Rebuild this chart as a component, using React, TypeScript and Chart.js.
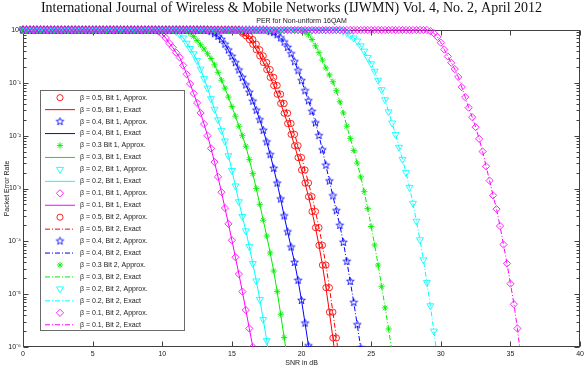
import { useEffect, useRef } from 'react';
import { Chart, registerables } from 'chart.js';
import { drawPoint } from 'chart.js/helpers';

Chart.register(...registerables);

// SNR sampling grid (dB)
const snrDb = [
  0, 0.25, 0.5, 0.75, 1, 1.25, 1.5, 1.75,
  2, 2.25, 2.5, 2.75, 3, 3.25, 3.5, 3.75,
  4, 4.25, 4.5, 4.75, 5, 5.25, 5.5, 5.75,
  6, 6.25, 6.5, 6.75, 7, 7.25, 7.5, 7.75,
  8, 8.25, 8.5, 8.75, 9, 9.25, 9.5, 9.75,
  10, 10.25, 10.5, 10.75, 11, 11.25, 11.5, 11.75,
  12, 12.25, 12.5, 12.75, 13, 13.25, 13.5, 13.75,
  14, 14.25, 14.5, 14.75, 15, 15.25, 15.5, 15.75,
  16, 16.25, 16.5, 16.75, 17, 17.25, 17.5, 17.75,
  18, 18.25, 18.5, 18.75, 19, 19.25, 19.5, 19.75,
  20, 20.25, 20.5, 20.75, 21, 21.25, 21.5, 21.75,
  22, 22.25, 22.5, 22.75, 23, 23.25, 23.5, 23.75,
  24, 24.25, 24.5, 24.75, 25, 25.25, 25.5, 25.75,
  26, 26.25, 26.5, 26.75, 27, 27.25, 27.5, 27.75,
  28, 28.25, 28.5, 28.75, 29, 29.25, 29.5, 29.75,
  30, 30.25, 30.5, 30.75, 31, 31.25, 31.5, 31.75,
  32, 32.25, 32.5, 32.75, 33, 33.25, 33.5, 33.75,
  34, 34.25, 34.5, 34.75, 35, 35.25, 35.5, 35.75,
];

// Packet error rate per SNR sample, one array per (beta, bit)
const per05Bit1 = [
  1, 1, 1, 1, 1, 1, 1, 1, 1, 1, 1, 1, 1, 1, 1, 1,
  1, 1, 1, 1, 1, 1, 1, 1, 1, 1, 1, 1, 1, 1, 1, 1,
  1, 1, 1, 1, 1, 1, 1, 1, 1, 1, 1, 1, 1, 1, 1, 1,
  1, 1, 1, 1, 1, 1, 1, 1, 1, 1, 1, 1, 1, 1, 1,
  0.871, 0.776, 0.661, 0.537, 0.422, 0.324, 0.243, 0.178, 0.127, 0.0891,
  0.061, 0.0407, 0.0266, 0.017, 0.0106, 6.46e-3, 3.85e-3, 2.24e-3, 1.27e-3, 7.0e-4,
  3.67e-4, 1.82e-4, 8.41e-5, 3.55e-5, 1.33e-5, 4.57e-6, 1.48e-6, 4.47e-7,
];

const per04Bit1 = [
  1, 1, 1, 1, 1, 1, 1, 1, 1, 1, 1, 1, 1, 1, 1, 1,
  1, 1, 1, 1, 1, 1, 1, 1, 1, 1, 1, 1, 1, 1, 1, 1,
  1, 1, 1, 1, 1, 1, 1, 1, 1, 1, 1, 1, 1, 1, 1, 1,
  1, 1, 1, 1, 1, 1,
  0.933, 0.851, 0.759, 0.661, 0.537, 0.417, 0.316, 0.24, 0.174, 0.126,
  0.0912, 0.0661, 0.0447, 0.0302, 0.02, 0.0126, 7.59e-3, 4.37e-3, 2.4e-3, 1.26e-3,
  6.31e-4, 3.02e-4, 1.51e-4, 7.76e-5, 3.98e-5, 1.82e-5, 7.59e-6, 2.82e-6, 1.05e-6, 3.98e-7,
];

const per03Bit1 = [
  1, 1, 1, 1, 1, 1, 1, 1, 1, 1, 1, 1, 1, 1, 1, 1,
  1, 1, 1, 1, 1, 1, 1, 1, 1, 1, 1, 1, 1, 1, 1, 1,
  1, 1, 1, 1, 1, 1, 1, 1, 1, 1, 1, 1, 1, 1, 1, 1,
  0.871, 0.759, 0.631, 0.525, 0.437, 0.355, 0.288, 0.219, 0.158, 0.112,
  0.0794, 0.0537, 0.0355, 0.0234, 0.0151, 0.01, 6.31e-3, 3.55e-3, 1.91e-3, 1.0e-3,
  5.01e-4, 2.51e-4, 1.26e-4, 6.03e-5, 2.75e-5, 1.12e-5, 4.17e-6, 1.51e-6, 5.62e-7,
];

const per02Bit1 = [
  1, 1, 1, 1, 1, 1, 1, 1, 1, 1, 1, 1, 1, 1, 1, 1,
  1, 1, 1, 1, 1, 1, 1, 1, 1, 1, 1, 1, 1, 1, 1, 1,
  1, 1, 1, 1, 1, 1, 1, 1, 1, 1, 1, 1,
  0.933, 0.832, 0.708, 0.562, 0.447, 0.355, 0.263, 0.182, 0.12, 0.0794,
  0.0501, 0.0316, 0.02, 0.0126, 7.94e-3, 4.17e-3, 2.19e-3, 1.12e-3, 5.62e-4, 2.95e-4,
  1.58e-4, 7.94e-5, 3.8e-5, 1.78e-5, 7.94e-6, 3.31e-6, 1.32e-6, 5.01e-7,
];

const per01Bit1 = [
  1, 1, 1, 1, 1, 1, 1, 1, 1, 1, 1, 1, 1, 1, 1, 1,
  1, 1, 1, 1, 1, 1, 1, 1, 1, 1, 1, 1, 1, 1, 1, 1,
  1, 1, 1, 1, 1, 1, 1,
  0.933, 0.832, 0.708, 0.562, 0.468, 0.372, 0.302, 0.214, 0.145, 0.0955,
  0.0631, 0.0417, 0.0269, 0.0166, 0.01, 5.75e-3, 3.16e-3, 1.66e-3, 8.51e-4, 4.27e-4,
  2.14e-4, 1.05e-4, 5.01e-5, 2.4e-5, 1.12e-5, 5.01e-6, 2.24e-6, 1.0e-6, 3.98e-7,
];

const per05Bit2 = [
  1, 1, 1, 1, 1, 1, 1, 1, 1, 1, 1, 1, 1, 1, 1, 1,
  1, 1, 1, 1, 1, 1, 1, 1, 1, 1, 1, 1, 1, 1, 1, 1,
  1, 1, 1, 1, 1, 1, 1, 1, 1, 1, 1, 1, 1, 1, 1, 1,
  1, 1, 1, 1, 1, 1, 1, 1, 1, 1, 1, 1, 1, 1, 1,
  0.933, 0.871, 0.776, 0.661, 0.537, 0.422, 0.324, 0.243, 0.178, 0.127,
  0.0891, 0.061, 0.0407, 0.0266, 0.017, 0.0106, 6.46e-3, 3.85e-3, 2.24e-3, 1.27e-3,
  7.0e-4, 3.67e-4, 1.82e-4, 8.41e-5, 3.55e-5, 1.33e-5, 4.57e-6, 1.48e-6, 4.47e-7,
];

const per04Bit2 = [
  1, 1, 1, 1, 1, 1, 1, 1, 1, 1, 1, 1, 1, 1, 1, 1,
  1, 1, 1, 1, 1, 1, 1, 1, 1, 1, 1, 1, 1, 1, 1, 1,
  1, 1, 1, 1, 1, 1, 1, 1, 1, 1, 1, 1, 1, 1, 1, 1,
  1, 1, 1, 1, 1, 1, 1, 1, 1, 1, 1, 1, 1, 1, 1, 1,
  1, 1, 1, 1, 1, 1, 1,
  0.933, 0.891, 0.813, 0.708, 0.589, 0.468, 0.355, 0.251, 0.17, 0.11,
  0.0708, 0.0457, 0.0288, 0.0174, 0.01, 5.37e-3, 2.75e-3, 1.38e-3, 7.24e-4, 3.8e-4,
  2.0e-4, 9.55e-5, 4.17e-5, 1.74e-5, 6.92e-6, 2.63e-6, 9.55e-7, 3.16e-7,
];

const per03Bit2 = [
  1, 1, 1, 1, 1, 1, 1, 1, 1, 1, 1, 1, 1, 1, 1, 1,
  1, 1, 1, 1, 1, 1, 1, 1, 1, 1, 1, 1, 1, 1, 1, 1,
  1, 1, 1, 1, 1, 1, 1, 1, 1, 1, 1, 1, 1, 1, 1, 1,
  1, 1, 1, 1, 1, 1, 1, 1, 1, 1, 1, 1, 1, 1, 1, 1,
  1, 1, 1, 1, 1, 1, 1, 1, 1, 1, 1, 1, 1, 1, 1, 1,
  1,
  0.912, 0.813, 0.661, 0.501, 0.372, 0.269, 0.191, 0.141, 0.105, 0.0708,
  0.0437, 0.0269, 0.0151, 8.91e-3, 5.25e-3, 3.02e-3, 1.66e-3, 8.71e-4, 4.17e-4, 1.91e-4,
  8.51e-5, 3.55e-5, 1.41e-5, 5.5e-6, 2.19e-6, 7.94e-7,
];

const per02Bit2 = [
  1, 1, 1, 1, 1, 1, 1, 1, 1, 1, 1, 1, 1, 1, 1, 1,
  1, 1, 1, 1, 1, 1, 1, 1, 1, 1, 1, 1, 1, 1, 1, 1,
  1, 1, 1, 1, 1, 1, 1, 1, 1, 1, 1, 1, 1, 1, 1, 1,
  1, 1, 1, 1, 1, 1, 1, 1, 1, 1, 1, 1, 1, 1, 1, 1,
  1, 1, 1, 1, 1, 1, 1, 1, 1, 1, 1, 1, 1, 1, 1, 1,
  1, 1, 1, 1, 1, 1, 1, 1, 1, 1, 1, 1,
  0.955, 0.891, 0.794, 0.708, 0.617, 0.501, 0.398, 0.302, 0.229, 0.166,
  0.112, 0.0741, 0.0479, 0.0282, 0.0174, 0.0105, 6.03e-3, 3.55e-3, 2.0e-3, 1.05e-3,
  5.25e-4, 2.4e-4, 1.07e-4, 4.47e-5, 1.66e-5, 6.03e-6, 2.0e-6, 6.31e-7,
];

const per01Bit2 = [
  1, 1, 1, 1, 1, 1, 1, 1, 1, 1, 1, 1, 1, 1, 1, 1,
  1, 1, 1, 1, 1, 1, 1, 1, 1, 1, 1, 1, 1, 1, 1, 1,
  1, 1, 1, 1, 1, 1, 1, 1, 1, 1, 1, 1, 1, 1, 1, 1,
  1, 1, 1, 1, 1, 1, 1, 1, 1, 1, 1, 1, 1, 1, 1, 1,
  1, 1, 1, 1, 1, 1, 1, 1, 1, 1, 1, 1, 1, 1, 1, 1,
  1, 1, 1, 1, 1, 1, 1, 1, 1, 1, 1, 1, 1, 1, 1, 1,
  1, 1, 1, 1, 1, 1, 1, 1, 1, 1, 1, 1, 1, 1, 1, 1,
  1, 1, 1, 1, 1,
  0.955, 0.871, 0.741, 0.575, 0.427, 0.316, 0.24, 0.182, 0.129, 0.0832,
  0.0537, 0.0339, 0.0224, 0.0145, 8.71e-3, 5.01e-3, 2.63e-3, 1.41e-3, 7.41e-4, 4.07e-4,
  1.95e-4, 8.71e-5, 3.8e-5, 1.58e-5, 6.46e-6, 2.24e-6, 6.31e-7,
];

const approxLabels = [
  'β = 0.5, Bit 1, Approx.', 'β = 0.4, Bit 1, Approx.', 'β = 0.3 Bit 1, Approx.',
  'β = 0.2, Bit 1, Approx.', 'β = 0.1, Bit 1, Approx.', 'β = 0.5, Bit 2, Approx.',
  'β = 0.4, Bit 2, Approx.', 'β = 0.3 Bit 2, Approx.', 'β = 0.2, Bit 2, Approx.',
  'β = 0.1, Bit 2, Approx.',
];
const exactLabels = [
  'β = 0.5, Bit 1, Exact', 'β = 0.4, Bit 1, Exact', 'β = 0.3, Bit 1, Exact',
  'β = 0.2, Bit 1, Exact', 'β = 0.1, Bit 1, Exact', 'β = 0.5, Bit 2, Exact',
  'β = 0.4, Bit 2, Exact', 'β = 0.3, Bit 2, Exact', 'β = 0.2, Bit 2, Exact',
  'β = 0.1, Bit 2, Exact',
];

const yDecades = [1e-6, 1e-5, 1e-4, 1e-3, 1e-2, 1e-1, 1];
const yTickLabels = ['10⁰', '10⁻¹', '10⁻²', '10⁻³', '10⁻⁴', '10⁻⁵', '10⁻⁶'];

const HEADER = 'International Journal of Wireless & Mobile Networks (IJWMN) Vol. 4, No. 2, April 2012';
const PLOT_TITLE = 'PER for Non-uniform 16QAM';

const RED = '#ff0000';
const BLUE = '#0000ff';
const GREEN = '#00ee00';
const CYAN = '#00ffff';
const MAGENTA = '#ff00ff';
const SANS = '"Liberation Sans", Arial, sans-serif';
const DASH_DOT = [5, 2, 1, 2];
const MARKER_LINE = 0.85;

function makePentagram(color: string, r: number) {
  const size = Math.ceil(r * 2 + 3);
  const c = document.createElement('canvas');
  c.width = size;
  c.height = size;
  const g = c.getContext('2d')!;
  const cx = size / 2;
  const cy = size / 2;
  g.beginPath();
  for (let k = 0; k < 10; k++) {
    const rad = k % 2 === 0 ? r : r * 0.42;
    const a = -Math.PI / 2 + (k * Math.PI) / 5;
    const px = cx + rad * Math.cos(a);
    const py = cy + rad * Math.sin(a);
    if (k === 0) g.moveTo(px, py);
    else g.lineTo(px, py);
  }
  g.closePath();
  g.strokeStyle = color;
  g.lineWidth = MARKER_LINE;
  g.stroke();
  return c;
}

const isDecade = (v: number) => Math.abs(Math.log10(v) - Math.round(Math.log10(v))) < 1e-9;

// box around the axes with inward tick marks on all four sides
const axisFrame = {
  id: 'axisFrame',
  beforeDatasetsDraw(chart: any) {
    const { ctx, chartArea: a, scales } = chart;
    const xs = scales.x;
    const ys = scales.y;
    ctx.save();
    ctx.strokeStyle = '#404040';
    ctx.lineWidth = 1;
    const L = Math.round(a.left) + 0.5;
    const R = Math.round(a.right) - 0.5;
    const T = Math.round(a.top) + 0.5;
    const B = Math.round(a.bottom) - 0.5;
    ctx.strokeRect(L, T, R - L, B - T);
    ctx.beginPath();
    xs.ticks.forEach((t: any) => {
      const px = Math.round(xs.getPixelForValue(t.value)) + 0.5;
      ctx.moveTo(px, B);
      ctx.lineTo(px, B - 5);
      ctx.moveTo(px, T);
      ctx.lineTo(px, T + 5);
    });
    for (let e = -6; e <= 0; e++) {
      for (let m = 1; m <= 9; m++) {
        const v = m * Math.pow(10, e);
        if (v > 1.0000001) break;
        const py = Math.round(ys.getPixelForValue(v)) + 0.5;
        const len = m === 1 ? 5 : 3;
        ctx.moveTo(L, py);
        ctx.lineTo(L + len, py);
        ctx.moveTo(R, py);
        ctx.lineTo(R - len, py);
      }
    }
    ctx.stroke();
    ctx.fillStyle = '#202020';
    ctx.font = `7px ${SANS}`;
    ctx.textAlign = 'center';
    ctx.textBaseline = 'middle';
    ctx.fillText(PLOT_TITLE, (a.left + a.right) / 2, a.top - 8.5);
    ctx.restore();
  },
};

// legend box inside the plot area, listing every dataset
const legendBox = {
  id: 'legendBox',
  afterDatasetsDraw(chart: any) {
    const { ctx, chartArea: a } = chart;
    const x0 = Math.round(a.left) + 17;
    const y0 = Math.round(a.top) + 60;
    const w = 144;
    const h = 240;
    ctx.save();
    ctx.fillStyle = '#ffffff';
    ctx.fillRect(x0, y0, w, h);
    ctx.strokeStyle = '#6a6a6a';
    ctx.lineWidth = 1;
    ctx.strokeRect(x0 + 0.5, y0 + 0.5, w, h);
    chart.data.datasets.forEach((ds: any, i: number) => {
      const cy = y0 + 7.7 + i * 11.95;
      ctx.strokeStyle = ds.borderColor;
      ctx.fillStyle = 'rgba(0,0,0,0)';
      if (ds.showLine === false) {
        ctx.lineWidth = MARKER_LINE;
        ctx.setLineDash([]);
        drawPoint(ctx, {
          pointStyle: ds.pointStyle,
          rotation: ds.pointRotation || 0,
          radius: ds.pointRadius,
          borderWidth: MARKER_LINE,
        }, x0 + 20, cy);
      } else {
        ctx.lineWidth = 1;
        ctx.setLineDash(ds.borderDash || []);
        ctx.beginPath();
        ctx.moveTo(x0 + 5, cy);
        ctx.lineTo(x0 + 35, cy);
        ctx.stroke();
        ctx.setLineDash([]);
      }
      ctx.fillStyle = '#1a1a1a';
      ctx.font = `7px ${SANS}`;
      ctx.textAlign = 'left';
      ctx.textBaseline = 'middle';
      ctx.fillText(ds.label, x0 + 40, cy);
    });
    ctx.restore();
  },
};

export default function App() {
  const canvasRef = useRef<HTMLCanvasElement>(null);

  useEffect(() => {
    const canvas = canvasRef.current;
    if (!canvas) return;

    const pentagram = makePentagram(BLUE, 4);
    const curves = [
      { data: per05Bit1, color: RED, style: 'circle', radius: 3.1, rotation: 0, dash: [] as number[] },
      { data: per04Bit1, color: BLUE, style: pentagram, radius: 4, rotation: 0, dash: [] },
      { data: per03Bit1, color: GREEN, style: 'star', radius: 3.2, rotation: 0, dash: [] },
      { data: per02Bit1, color: CYAN, style: 'triangle', radius: 4, rotation: 180, dash: [] },
      { data: per01Bit1, color: MAGENTA, style: 'rectRot', radius: 3.6, rotation: 0, dash: [] },
      { data: per05Bit2, color: RED, style: 'circle', radius: 3.1, rotation: 0, dash: DASH_DOT },
      { data: per04Bit2, color: BLUE, style: pentagram, radius: 4, rotation: 0, dash: DASH_DOT },
      { data: per03Bit2, color: GREEN, style: 'star', radius: 3.2, rotation: 0, dash: DASH_DOT },
      { data: per02Bit2, color: CYAN, style: 'triangle', radius: 4, rotation: 180, dash: DASH_DOT },
      { data: per01Bit2, color: MAGENTA, style: 'rectRot', radius: 3.6, rotation: 0, dash: DASH_DOT },
    ];

    const clip = { left: 6, top: 6, right: 6, bottom: 0 };
    const datasets: any[] = [];
    curves.forEach((c, k) => {
      datasets.push({
        label: approxLabels[k],
        data: c.data,
        showLine: false,
        borderColor: c.color,
        backgroundColor: 'rgba(0,0,0,0)',
        pointStyle: c.style,
        pointRadius: c.radius,
        pointRotation: c.rotation,
        pointBorderColor: c.color,
        pointBackgroundColor: 'rgba(0,0,0,0)',
        pointBorderWidth: MARKER_LINE,
        clip,
      });
      datasets.push({
        label: exactLabels[k],
        data: c.data,
        showLine: true,
        borderColor: c.color,
        backgroundColor: 'rgba(0,0,0,0)',
        borderWidth: 1,
        borderDash: c.dash,
        pointRadius: 0,
        tension: 0,
        clip,
      });
    });
    // later series are drawn on top of earlier ones
    datasets.forEach((d, i) => { d.order = datasets.length - i; });

    const tickFont = { family: SANS, size: 7 };

    const chart = new Chart(canvas, {
      type: 'line',
      data: { labels: snrDb, datasets },
      options: {
        responsive: false,
        animation: false,
        events: [],
        layout: { padding: { left: 0, right: 4, top: 0, bottom: 0 } },
        plugins: {
          legend: { display: false },
          tooltip: { enabled: false },
          title: {
            display: true,
            text: HEADER,
            color: '#111111',
            font: { family: '"Liberation Serif", "Times New Roman", serif', size: 14, weight: 'normal', lineHeight: 1.15 },
            padding: { top: 0, bottom: 13.9 },
          },
        },
        scales: {
          x: {
            type: 'linear',
            min: 0,
            max: 40,
            ticks: { stepSize: 5, font: tickFont, color: '#202020', padding: 3, maxRotation: 0, autoSkip: false },
            grid: { display: false, drawTicks: false },
            border: { display: false },
            title: { display: true, text: 'SNR in dB', font: tickFont, color: '#202020', padding: { top: 0, bottom: -1.5 } },
            afterFit: (s: any) => { s.height = 19; },
          },
          y: {
            type: 'logarithmic',
            min: 1e-6,
            max: 1,
            afterBuildTicks: (s: any) => { s.ticks = yDecades.map((v) => ({ value: v, major: true })); },
            ticks: {
              autoSkip: false,
              font: tickFont,
              color: '#202020',
              padding: 2,
              callback: (v: any) => (isDecade(Number(v)) ? yTickLabels[Math.round(-Math.log10(Number(v)))] : ''),
            },
            grid: { display: false, drawTicks: false },
            border: { display: false },
            title: { display: true, text: 'Packet Error Rate', font: tickFont, color: '#202020', padding: { top: 2.5, bottom: 0 } },
            afterFit: (s: any) => { s.width = 23; },
          },
        },
      },
      plugins: [axisFrame, legendBox],
    } as any);

    return () => chart.destroy();
  }, []);

  return (
    <div style={{ position: 'fixed', left: 0, top: 0, width: 587, height: 366, background: '#ffffff' }}>
      <canvas ref={canvasRef} width={587} height={366} style={{ display: 'block' }} />
    </div>
  );
}
